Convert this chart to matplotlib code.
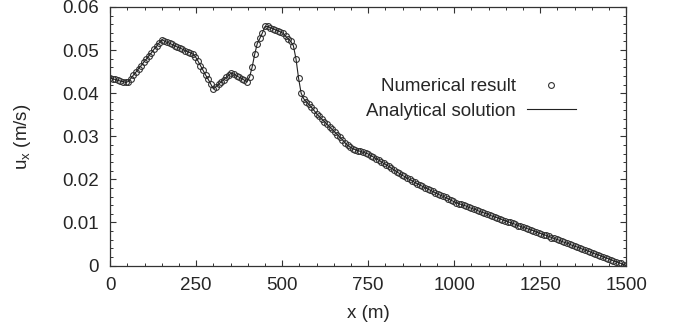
import numpy as np
import matplotlib
matplotlib.use("Agg")
import matplotlib.pyplot as plt

plt.rcParams["font.family"] = ["Liberation Sans", "DejaVu Sans"]
plt.rcParams["mathtext.default"] = "regular"

# sample grid of the numerical result (7.5 m spacing)
x_m = np.linspace(0, 1500, 201)

# velocity, one value per sample
u_x = [
    0.0435, 0.0433, 0.0432, 0.0430, 0.0428, 0.0427, 0.0425, 0.0427, 0.0434, 0.0442,
    0.0449, 0.0457, 0.0464, 0.0472, 0.0479, 0.0487, 0.0494, 0.0502, 0.0509, 0.0517,
    0.0524, 0.0521, 0.0518, 0.0516, 0.0513, 0.0510, 0.0507, 0.0505, 0.0502, 0.0499,
    0.0496, 0.0494, 0.0491, 0.0485, 0.0475, 0.0464, 0.0453, 0.0442, 0.0432, 0.0421,
    0.0410, 0.0415, 0.0421, 0.0426, 0.0431, 0.0437, 0.0442, 0.0447, 0.0444, 0.0440,
    0.0437, 0.0434, 0.0430, 0.0427, 0.0437, 0.0460, 0.0490, 0.0515, 0.0527, 0.0540,
    0.0555, 0.0555, 0.0552, 0.0550, 0.0547, 0.0545, 0.0542, 0.0539, 0.0532, 0.0526,
    0.0520, 0.0510, 0.0480, 0.0435, 0.0400, 0.0387, 0.0380, 0.0374, 0.0367, 0.0360,
    0.0352, 0.0346, 0.0340, 0.0334, 0.0328, 0.0322, 0.0316, 0.0310, 0.0304, 0.0298,
    0.0292, 0.0285, 0.0279, 0.0275, 0.0271, 0.0269, 0.0267, 0.0265, 0.0263, 0.0261,
    0.0259, 0.0255, 0.0252, 0.0248, 0.0245, 0.0241, 0.0237, 0.0234, 0.0230, 0.0226,
    0.0222, 0.0218, 0.0214, 0.0210, 0.0207, 0.0203, 0.0200, 0.0197, 0.0193, 0.0190,
    0.0187, 0.0184, 0.0181, 0.0178, 0.0175, 0.0172, 0.0169, 0.0166, 0.0163, 0.0161,
    0.0158, 0.0155, 0.0152, 0.0149, 0.0146, 0.0144, 0.0142, 0.0140, 0.0138, 0.0135,
    0.0133, 0.0131, 0.0129, 0.0126, 0.0124, 0.0122, 0.0120, 0.0117, 0.0115, 0.0113,
    0.0111, 0.0109, 0.0106, 0.0104, 0.0102, 0.0100, 0.0098, 0.0096, 0.0093, 0.0091,
    0.0089, 0.0087, 0.0085, 0.0083, 0.0081, 0.0078, 0.0076, 0.0074, 0.0072, 0.0070,
    0.0068, 0.0065, 0.0063, 0.0061, 0.0059, 0.0056, 0.0054, 0.0052, 0.0050, 0.0047,
    0.0045, 0.0043, 0.0041, 0.0038, 0.0036, 0.0034, 0.0032, 0.0029, 0.0027, 0.0025,
    0.0023, 0.0020, 0.0018, 0.0016, 0.0014, 0.0011, 0.0009, 0.0007, 0.0005, 0.0002,
    0.0000,
]

x_ticks = [0, 250, 500, 750, 1000, 1250, 1500]
y_ticks = [0, 0.01, 0.02, 0.03, 0.04, 0.05, 0.06]
y_tick_labels = ["0", "0.01", "0.02", "0.03", "0.04", "0.05", "0.06"]

fs = 13.5
fig = plt.figure(figsize=(6.8, 3.32), dpi=100)
ax = fig.add_axes([0.162, 0.2, 0.759, 0.779])

ax.plot(x_m, u_x, "o", mfc="none", mec="#333333", ms=4.2, mew=0.8,
        label="Numerical result")
ax.plot(x_m, u_x, "-", color="#222222", lw=0.8, label="Analytical solution")

ax.set_xlim(0, 1500)
ax.set_ylim(0, 0.06)
ax.set_xticks(x_ticks)
ax.set_yticks(y_ticks)
ax.set_yticklabels(y_tick_labels)
ax.set_xticks(np.arange(0, 1501, 50), minor=True)
ax.set_yticks(np.arange(0, 0.0601, 0.002), minor=True)
ax.tick_params(which="both", direction="in", top=True, right=True,
               colors="#333333", labelsize=fs, labelcolor="#262626")
ax.tick_params(which="major", length=4.5, width=0.8, pad=8)
ax.tick_params(which="minor", length=2.2, width=0.7)
for s in ax.spines.values():
    s.set_color("#333333")
    s.set_linewidth(0.9)

ax.set_xlabel("x (m)", fontsize=fs, color="#262626", labelpad=8)
ax.set_ylabel("u$_{x}$ (m/s)", fontsize=fs, color="#262626", labelpad=21)

ax.legend(loc="upper right", bbox_to_anchor=(0.935, 0.79), frameon=False,
          markerfirst=False, fontsize=fs, handlelength=2.6, labelspacing=0.4,
          handletextpad=0.6, labelcolor="#262626")

fig.savefig("out.png", dpi=100)
